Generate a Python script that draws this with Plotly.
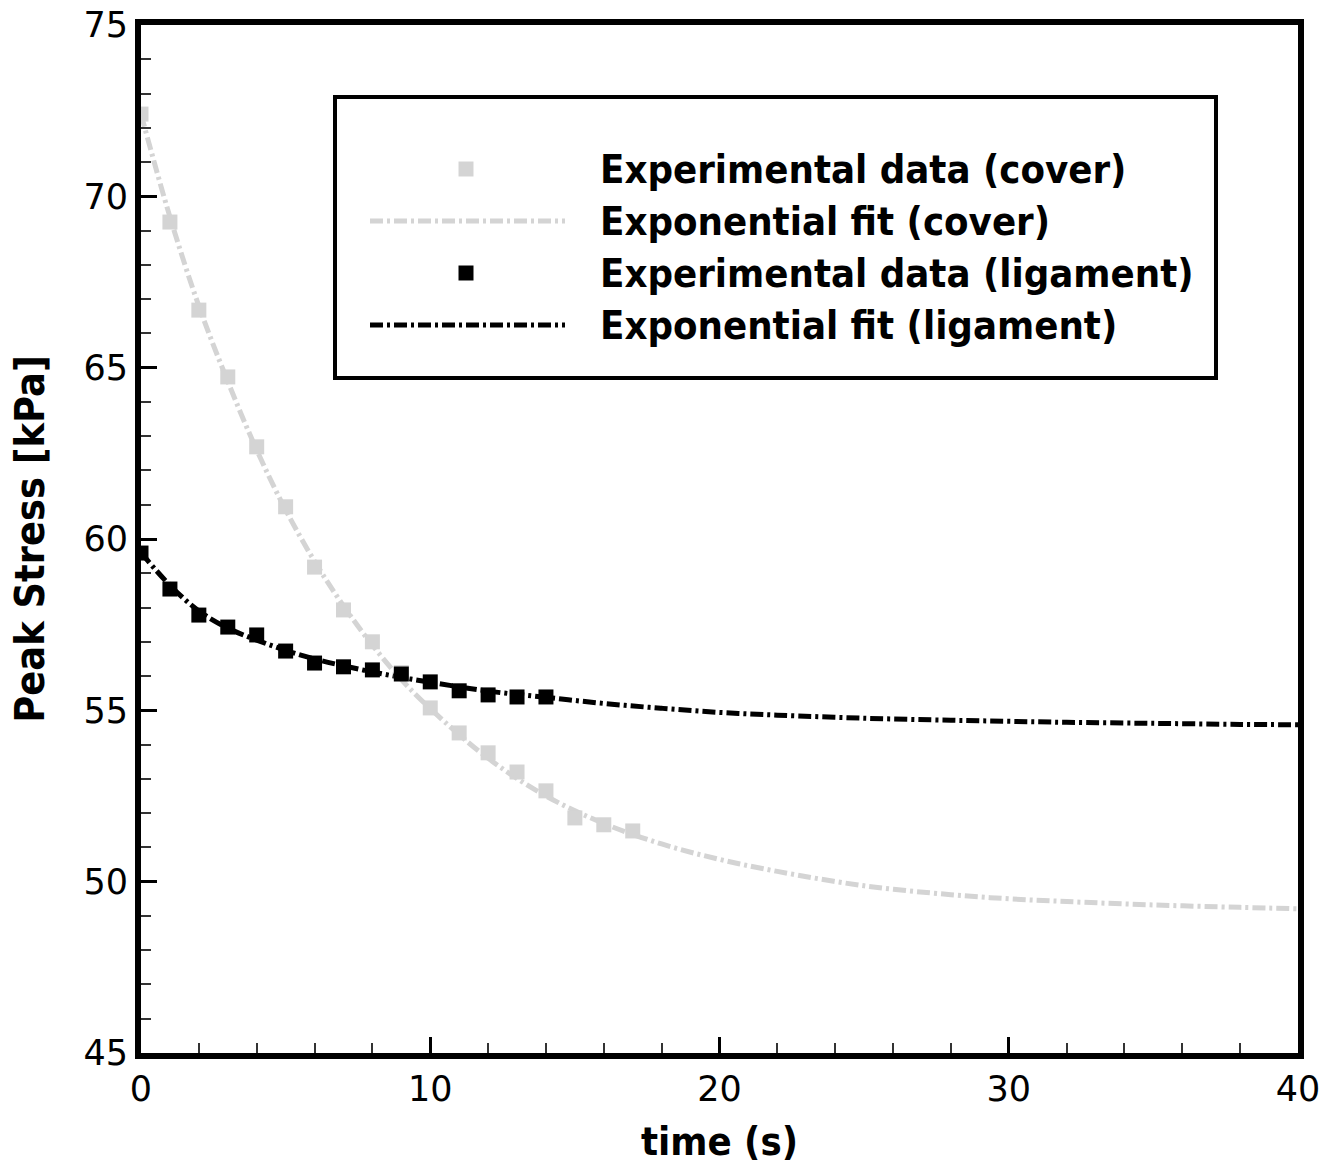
import plotly.graph_objects as go

# Peak stress relaxation measurements (time in s, stress in kPa)
time_data = [0, 1, 2, 3, 4, 5, 6, 7, 8, 9, 10, 11, 12, 13, 14, 15, 16, 17]
cover_data = [72.40, 69.25, 66.68, 64.73, 62.69, 60.94, 59.18, 57.93, 57.00,
              56.10, 55.07, 54.34, 53.76, 53.20, 52.65, 51.86, 51.66, 51.48]

time_lig = [0, 1, 2, 3, 4, 5, 6, 7, 8, 9, 10, 11, 12, 13, 14]
ligament_data = [59.59, 58.54, 57.78, 57.43, 57.20, 56.73, 56.38, 56.27, 56.18,
                 56.06, 55.83, 55.57, 55.45, 55.39, 55.39]

# Exponential fit curves, sampled
time_fit = [0, 1, 2, 3, 4, 5, 6, 7, 8, 9, 10, 12, 14, 16, 18, 20, 22, 25, 28,
            30, 32, 35, 38, 40]
cover_fit = [72.40, 69.40, 66.80, 64.60, 62.60, 60.85, 59.35, 58.05, 56.90,
             55.90, 55.05, 53.60, 52.50, 51.70, 51.10, 50.65, 50.30, 49.88,
             49.62, 49.50, 49.42, 49.32, 49.25, 49.21]
ligament_fit = [59.60, 58.65, 57.90, 57.40, 57.05, 56.75, 56.50, 56.30, 56.12,
                55.96, 55.82, 55.56, 55.38, 55.20, 55.06, 54.94, 54.86, 54.77,
                54.71, 54.68, 54.65, 54.62, 54.59, 54.58]

legend_labels = ["Experimental data (cover)", "Exponential fit (cover)",
                 "Experimental data (ligament)", "Exponential fit (ligament)"]

GRAY = "#d4d4d4"
BLACK = "#000000"
DASH = "13px,4px,3px,4px"
BOLD_FAMILY = "DejaVu Sans Condensed, DejaVu Sans"
LABEL_FONT = dict(family=BOLD_FAMILY, size=39.7, color=BLACK, weight="bold")

W, H = 1337, 1164
ML, MR, MT, MB = 141, 39, 25, 111
PW, PH = W - ML - MR, H - MT - MB


def px(x):
    return (x - ML) / PW


def py(y):
    return (H - MB - y) / PH


fig = go.Figure()
fig.add_trace(go.Scatter(x=time_fit, y=cover_fit, mode="lines",
                         line=dict(color=GRAY, width=5, dash=DASH, shape="spline"),
                         name=legend_labels[1]))
fig.add_trace(go.Scatter(x=time_fit, y=ligament_fit, mode="lines",
                         line=dict(color=BLACK, width=5, dash=DASH, shape="spline"),
                         name=legend_labels[3]))
fig.add_trace(go.Scatter(x=time_data, y=cover_data, mode="markers",
                         marker=dict(symbol="square", size=15, color=GRAY),
                         name=legend_labels[0]))
fig.add_trace(go.Scatter(x=time_lig, y=ligament_data, mode="markers",
                         marker=dict(symbol="square", size=15, color=BLACK),
                         name=legend_labels[2]))

# Boxed legend
shapes = [dict(type="rect", xref="paper", yref="paper",
               x0=px(335), x1=px(1216), y0=py(378), y1=py(97),
               line=dict(color=BLACK, width=4), fillcolor="white", layer="above")]
row_y = [169, 221, 273, 325]
styles = [("marker", GRAY), ("line", GRAY), ("marker", BLACK), ("line", BLACK)]
annotations = []
for (kind, col), yy, label in zip(styles, row_y, legend_labels):
    if kind == "marker":
        shapes.append(dict(type="rect", xref="paper", yref="paper",
                           xsizemode="pixel", ysizemode="pixel",
                           xanchor=px(466), yanchor=py(yy),
                           x0=-7.5, x1=7.5, y0=-7.5, y1=7.5,
                           line=dict(width=0), fillcolor=col, layer="above"))
    else:
        shapes.append(dict(type="line", xref="paper", yref="paper",
                           x0=px(370), x1=px(565), y0=py(yy), y1=py(yy),
                           line=dict(color=col, width=5, dash=DASH), layer="above"))
    annotations.append(dict(text=label, xref="paper", yref="paper",
                            x=px(598), y=py(yy), xanchor="left", yanchor="middle",
                            showarrow=False, font=LABEL_FONT))

axis_common = dict(
    showgrid=False, zeroline=False, showline=True, linecolor=BLACK, linewidth=6,
    mirror=True, ticks="inside", ticklen=16, tickwidth=3, tickcolor=BLACK,
    tickfont=dict(family="DejaVu Sans", size=35, color=BLACK),
    automargin=False,
)

fig.update_layout(
    width=W, height=H,
    margin=dict(l=ML, r=MR, t=MT, b=MB),
    paper_bgcolor="white", plot_bgcolor="white",
    showlegend=False,
    shapes=shapes, annotations=annotations,
    xaxis=dict(range=[0, 40], tick0=0, dtick=10,
               minor=dict(ticks="inside", dtick=2, ticklen=10, tickwidth=1.5,
                          tickcolor="#333333"),
               title=dict(text="time (s)", font=LABEL_FONT, standoff=22),
               **axis_common),
    yaxis=dict(range=[45, 75], tick0=45, dtick=5,
               minor=dict(ticks="inside", dtick=1, ticklen=10, tickwidth=1.5,
                          tickcolor="#333333"),
               title=dict(text="Peak Stress [kPa]",
                          font=dict(LABEL_FONT, size=41), standoff=28),
               **axis_common),
)

fig.write_html("out.html")
